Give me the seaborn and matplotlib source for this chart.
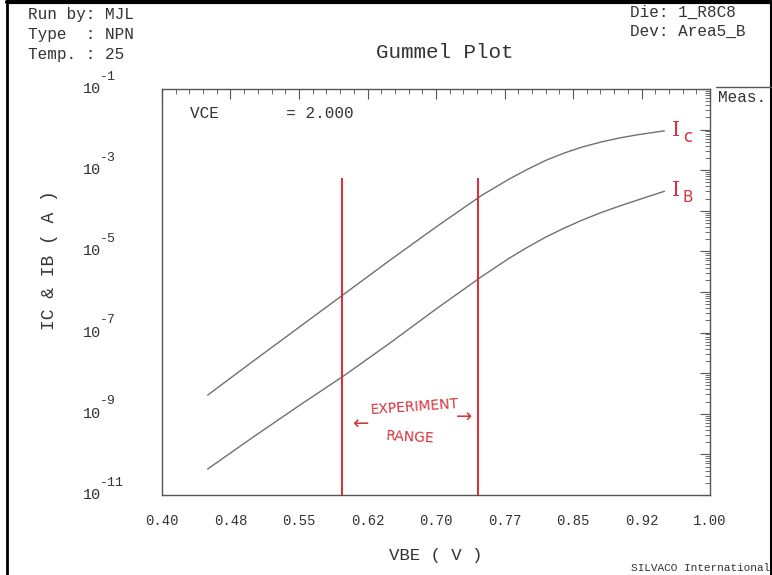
import numpy as np
import pandas as pd
import matplotlib
matplotlib.use("Agg")
import matplotlib.pyplot as plt
import seaborn as sns
from matplotlib.ticker import FixedLocator, NullFormatter, LogLocator
from matplotlib.lines import Line2D
import matplotlib.transforms as mtransforms

# ---------------- data ----------------
vbe = [0.45, 0.50, 0.55, 0.60, 0.65, 0.70, 0.75, 0.78, 0.80, 0.82, 0.84,
       0.86, 0.88, 0.90, 0.92, 0.95]
ic_log10 = [-8.54, -7.70, -6.87, -6.04, -5.21, -4.40, -3.62, -3.22, -2.98,
            -2.76, -2.58, -2.43, -2.31, -2.21, -2.13, -2.03]
ib_log10 = [-10.36, -9.57, -8.80, -8.05, -7.25, -6.42, -5.62, -5.17, -4.90,
            -4.65, -4.43, -4.23, -4.05, -3.89, -3.74, -3.52]
experiment_range = [0.597, 0.746]
range_line_top_log10 = -3.2
x_ticks = [0.400, 0.475, 0.550, 0.625, 0.700, 0.775, 0.850, 0.925, 1.000]
x_tick_labels = ["0.40", "0.48", "0.55", "0.62", "0.70", "0.77", "0.85", "0.92", "1.00"]
y_label_exponents = [-1, -3, -5, -7, -9, -11]

df = pd.DataFrame({
    "VBE": vbe * 2,
    "I": list(10.0 ** np.array(ic_log10)) + list(10.0 ** np.array(ib_log10)),
    "curve": ["IC"] * len(vbe) + ["IB"] * len(vbe),
})

# ---------------- style ----------------
sns.set_theme(style="white")
plt.rcParams["font.family"] = ["Liberation Mono", "DejaVu Sans"]
TXT = "#333333"
RED = "#d4343c"
W, H = 772, 575

fig = plt.figure(figsize=(W / 100, H / 100), dpi=100)
ax = fig.add_axes([162 / W, 1 - 495 / H, (710 - 162) / W, (495 - 89) / H])

sns.lineplot(data=df, x="VBE", y="I", hue="curve", palette={"IC": "#707070", "IB": "#707070"},
             legend=False, lw=1.0, ax=ax, estimator=None, sort=True)
ax.set_yscale("log")
ax.set_xlim(0.40, 1.00)
ax.set_ylim(1e-11, 1e-1)

# red experiment-range lines
for xv in experiment_range:
    ax.plot([xv, xv], [1e-11, 10 ** range_line_top_log10], color=RED, lw=1.5, zorder=3,
            solid_capstyle="butt")

# spines / ticks
for s in ax.spines.values():
    s.set_color("#555555")
    s.set_linewidth(1.0)
ax.xaxis.set_major_locator(FixedLocator(x_ticks))
ax.set_xticklabels(x_tick_labels)
ax.xaxis.set_minor_locator(FixedLocator(np.arange(0.40, 1.0001, 0.015)))
ax.yaxis.set_major_locator(LogLocator(base=10, numticks=20))
ax.yaxis.set_minor_locator(LogLocator(base=10, subs=np.arange(2, 10), numticks=20))
ax.yaxis.set_major_formatter(NullFormatter())
ax.yaxis.set_minor_formatter(NullFormatter())
ax.tick_params(which="both", direction="in", top=True, right=True, colors="#555555",
               labelcolor=TXT)
ax.tick_params(which="major", length=7, width=0.8)
ax.tick_params(which="minor", length=3.5, width=0.6)
ax.tick_params(axis="x", which="major", labelsize=10, pad=14)
ax.set_xlabel("VBE ( V )", fontsize=12.5, color=TXT, labelpad=14)
ax.set_ylabel("")

# y tick labels 10^n drawn as base + superscript
ytr = mtransforms.blended_transform_factory(fig.transFigure, ax.transData)
for e in y_label_exponents:
    ax.text(83 / W, 10.0 ** e, "10", transform=ytr, ha="left", va="center",
            fontsize=11, color=TXT, clip_on=False)
    ax.text(100 / W, 10.0 ** e, f"-{abs(e)}", ha="left", va="center", fontsize=9.5, color=TXT,
            clip_on=False,
            transform=ytr + mtransforms.ScaledTranslation(0, 9 / 72, fig.dpi_scale_trans))

# figure texts
def ftext(px, py, s, **kw):
    kw.setdefault("color", TXT)
    fig.text(px / W, 1 - py / H, s, **kw)

ftext(49, 260, "IC & IB ( A )", rotation=90, ha="center", va="center", fontsize=13)
ftext(28, 15, "Run by: MJL", ha="left", va="center", fontsize=11.5)
ftext(28, 35, "Type  : NPN", ha="left", va="center", fontsize=11.5)
ftext(28, 55, "Temp. : 25", ha="left", va="center", fontsize=11.5)
ftext(630, 12, "Die: 1_R8C8", ha="left", va="center", fontsize=11.5)
ftext(630, 31, "Dev: Area5_B", ha="left", va="center", fontsize=11.5)
ftext(445, 53, "Gummel Plot", ha="center", va="center", fontsize=15)
ftext(190, 113, "VCE       = 2.000", ha="left", va="center", fontsize=11.5)
ftext(718, 98, "Meas.", ha="left", va="center", fontsize=11.5)
ftext(770, 568, "SILVACO International", ha="right", va="center", fontsize=8)

# hand-written red annotations
hand = dict(color=RED, family=["DejaVu Sans"], ha="center", va="center")
ftext(415, 407, "EXPERIMENT", fontsize=10, rotation=4, **hand)
ftext(410, 437, "RANGE", fontsize=10, rotation=-3, **hand)
ftext(360, 424, "\u2190", fontsize=14, **hand)
ftext(464, 417, "\u2192", fontsize=14, **hand)
serif_hand = dict(color=RED, family=["DejaVu Serif"], ha="center", va="center")
ftext(676, 130, "I", fontsize=15, **serif_hand)
ftext(688, 137, "c", fontsize=12, **hand)
ftext(676, 190, "I", fontsize=15, **serif_hand)
ftext(688, 197, "B", fontsize=11, **hand)

# page frame and Meas. overline
def fline(x0, y0, x1, y1, lw=1.0, color="black"):
    fig.add_artist(Line2D([x0 / W, x1 / W], [1 - y0 / H, 1 - y1 / H], lw=lw, color=color,
                          transform=fig.transFigure))

fline(7, 2, 771, 2, lw=3)
fline(7, 2, 7, 575, lw=2)
fline(770.5, 2, 770.5, 575, lw=1.5)
fline(716, 87, 771, 87, lw=1, color="#555555")

fig.savefig("out.png", dpi=100, facecolor="white")
